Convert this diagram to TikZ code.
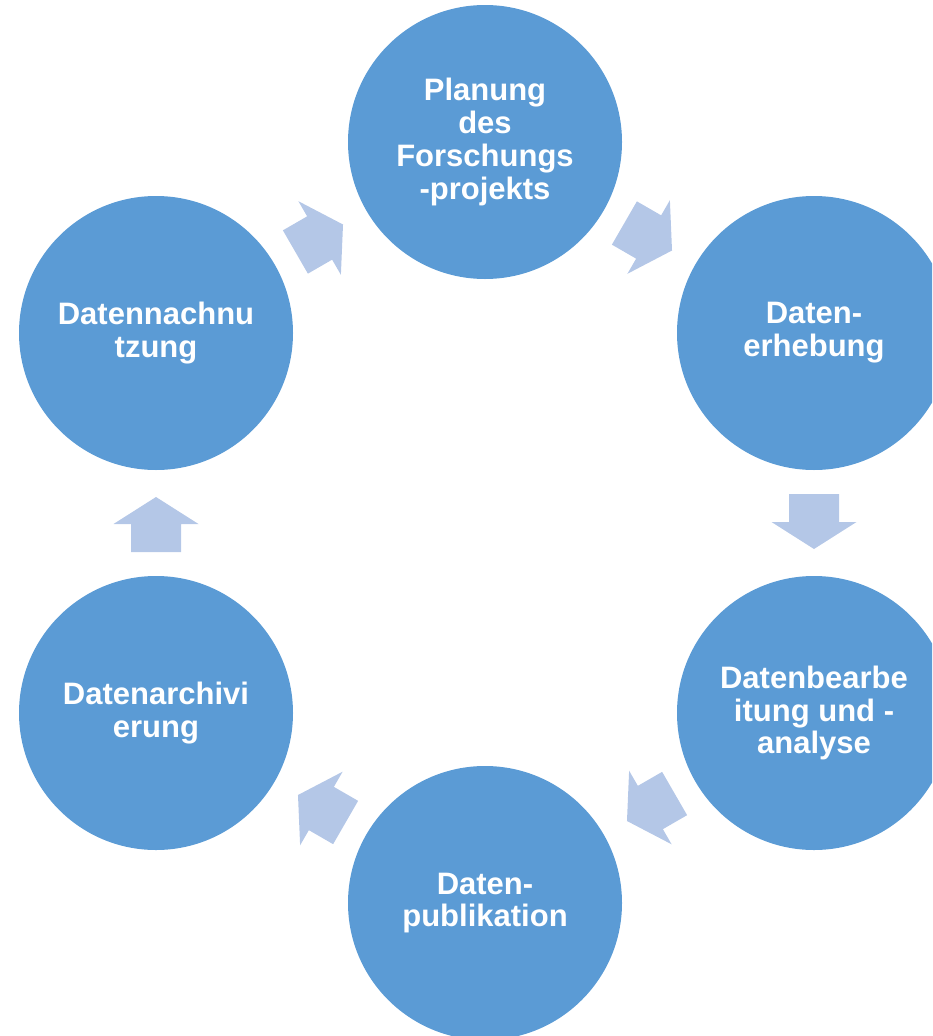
\documentclass[tikz,border=0pt]{standalone}
\usepackage{fontspec}
\setmainfont{Liberation Sans}
\usetikzlibrary{calc}
\definecolor{circblue}{HTML}{5B9BD5}
\definecolor{arrowblue}{HTML}{B4C7E7}
\tikzset{
  stage/.style={circle, fill=circblue, minimum size=274pt, inner sep=0pt,
    text=white, align=center,
    font=\fontsize{31}{32.8}\selectfont\bfseries},
  cyclearrow/.style={fill=arrowblue}
}
\newcommand\cycarrow[3]{%
  \fill[cyclearrow, shift={($(#1)!0.5!(#2)$)}, rotate=#3]
    (-29,-25) -- (-1,-25) -- (-1,-42.5) -- (26,0) -- (-1,42.5) -- (-1,25) -- (-29,25) -- cycle;}
\begin{document}
\begin{tikzpicture}[x=1pt,y=-1pt]
  \useasboundingbox (0,0) rectangle (932,1036);
  \clip (0,0) rectangle (932,1036);
  \node[stage] (plan) at (485,142) {Planung\\des\\Forschungs\\-projekts};
  \node[stage] (erheb) at (814,333) {Daten-\\erhebung};
  \node[stage] (bearb) at (814,713) {Datenbearbe\\itung und -\\analyse};
  \node[stage] (publ) at (485,903) {Daten-\\publikation};
  \node[stage] (archiv) at (156,713) {Datenarchivi\\erung};
  \node[stage] (nach) at (156,333) {Datennachnu\\tzung};
  \cycarrow{plan}{erheb}{-30}
  \cycarrow{erheb}{bearb}{-90}
  \cycarrow{bearb}{publ}{-150}
  \cycarrow{publ}{archiv}{150}
  \cycarrow{archiv}{nach}{90}
  \cycarrow{nach}{plan}{30}
\end{tikzpicture}
\end{document}
